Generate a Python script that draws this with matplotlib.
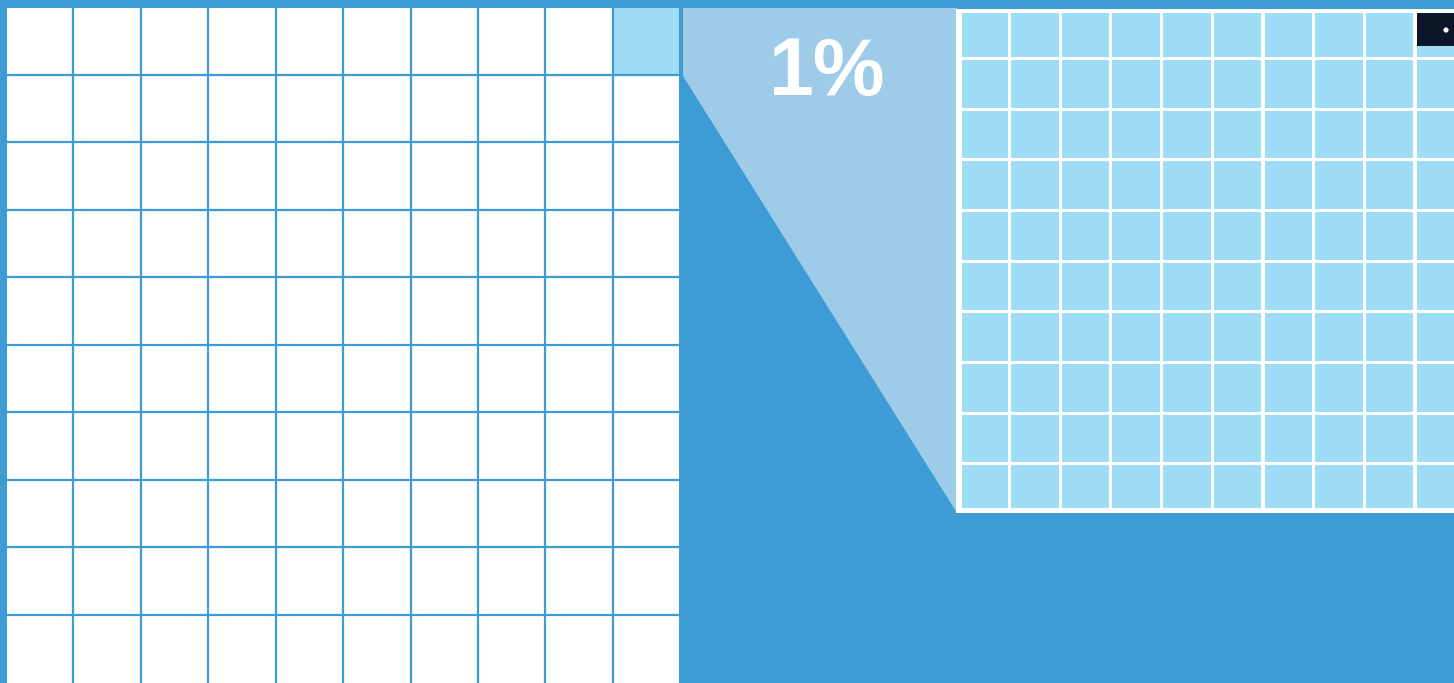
import matplotlib.pyplot as plt
from matplotlib.patches import Rectangle, Polygon, Circle

# =======================
# DATA
# =======================
n_rows = 10
n_cols = 10
highlight_count = 1          # cells highlighted out of 100
share_label = "1%"

# =======================
# STYLE
# =======================
bg_blue = "#3d9bd5"
light_cell = "#9fdcf6"
wedge_col = "#9dcbe8"
navy = "#0b1629"
W, H = 1454, 683

fig = plt.figure(figsize=(W / 100, H / 100), dpi=100)
ax = fig.add_axes([0, 0, 1, 1])
ax.set_xlim(0, W)
ax.set_ylim(H, 0)
ax.axis("off")
fig.patch.set_facecolor(bg_blue)

# =======================
# LEFT GRID (100 white cells, one highlighted)
# =======================
lx0, ly0, lpx, lpy = 7, 8.3, 67.44, 67.5
ax.add_patch(Rectangle((lx0, ly0), n_cols * lpx - 2.2, H - ly0 + 5,
                       facecolor="white", edgecolor="none", zorder=2))
for k in range(highlight_count):
    c = n_cols - 1 - k
    ax.add_patch(Rectangle((lx0 + c * lpx, ly0), lpx - 2.2, lpy - 2.2,
                           facecolor=light_cell, edgecolor="none", zorder=2.5))
ax.vlines([lx0 + i * lpx - 1.1 for i in range(1, n_cols)], ly0, H + 5,
          color=bg_blue, linewidth=1.6, zorder=3)
ax.hlines([ly0 + i * lpy - 1.1 for i in range(1, n_rows)], lx0, lx0 + n_cols * lpx - 2.2,
          color=bg_blue, linewidth=1.6, zorder=3)

# wedge linking the highlighted cell to the zoomed grid
ax.add_patch(Polygon([(683, 8), (957, 8), (957, 513), (683, 76)],
                     closed=True, facecolor=wedge_col, edgecolor="none", zorder=1))

# =======================
# ZOOMED GRID (the highlighted cell, enlarged)
# =======================
rx0, ry0, rpx, rpy, rcw, rch = 960.3, 9.3, 50.7, 50.66, 47.5, 47.7
ax.add_patch(Rectangle((956, 9), W - 956 + 10, 504.3, facecolor="white",
                       edgecolor="none", zorder=2))
clip = Rectangle((962, 13), W - 962 + 10, 494.7, transform=ax.transData)
for r in range(n_rows):
    for c in range(n_cols):
        p = Rectangle((rx0 + c * rpx, ry0 + r * rpy), rcw, rch,
                      facecolor=light_cell, edgecolor="none", zorder=3)
        ax.add_patch(p)
        p.set_clip_path(clip)

# next-level highlight in the top-right zoomed cell
nv = Rectangle((rx0 + (n_cols - 1) * rpx, ry0), rcw, 36.4, facecolor=navy,
               edgecolor="none", zorder=4)
ax.add_patch(nv)
nv.set_clip_path(clip)
ax.add_patch(Circle((1446, 30), 2.6, facecolor="white", edgecolor="none", zorder=5))

ax.text(827, 95, share_label, ha="center", va="baseline", color="white",
        fontsize=58, fontweight="bold", family="Liberation Sans", zorder=6)

plt.savefig("out.png", dpi=100, facecolor=bg_blue)
